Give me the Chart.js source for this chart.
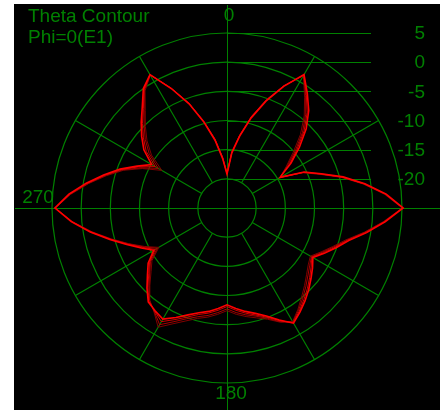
<!DOCTYPE html>
<html>
<head>
<meta charset="utf-8">
<script src="https://cdn.jsdelivr.net/npm/chart.js@4.4.1/dist/chart.umd.min.js"></script>
<style>
  html, body { margin: 0; padding: 0; background: #fff; }
  #wrap { width: 446px; height: 410px; }
</style>
</head>
<body>
<div id="wrap"><canvas id="contour" width="446" height="410"></canvas></div>
<script>
// ---- Data (theta in degrees, gain in dB) ----
const THETA = [
  0, 5, 10, 15, 20, 25, 30, 35, 40, 45, 50, 55,
  60, 65, 70, 75, 80, 85, 90, 95, 100, 105, 110, 115,
  120, 125, 130, 135, 140, 145, 150, 155, 160, 165, 170, 175,
  180, 185, 190, 195, 200, 205, 210, 215, 220, 225, 230, 235,
  240, 245, 250, 255, 260, 265, 270, 275, 280, 285, 290, 295,
  300, 305, 310, 315, 320, 325, 330, 335, 340, 345, 350, 355
];

const GAIN_1 = [
  -19.2, -15.5, -12.5, -9.0, -5.5, -2.0, 1.4, -1.0, -3.2, -5.8, -8.8, -11.6,
  -14.5, -10.4, -7.8, -4.4, -1.0, 2.4, 5.2, 2.2, -0.7, -3.4, -5.1, -6.6,
  -8.0, -7.1, -6.2, -5.2, -4.2, -3.2, -2.2, -3.8, -5.3, -6.3, -7.0, -7.7,
  -8.4, -7.7, -7.0, -6.4, -5.5, -4.3, -3.0, -3.5, -4.0, -5.6, -7.2, -8.5,
  -10.5, -8.8, -6.7, -4.2, -1.2, 1.8, 4.5, 2.2, -0.5, -3.1, -5.5, -8.0,
  -10.1, -7.6, -5.9, -4.2, -2.4, 0.0, 1.4, -2.4, -6.0, -9.8, -13.2, -16.5
];

const GAIN_2 = [
  -19.1, -15.4, -12.4, -8.9, -5.4, -1.9, 1.3, -1.3, -3.6, -6.3, -9.3, -11.9,
  -14.5, -10.5, -7.9, -4.5, -1.1, 2.3, 5.1, 2.1, -0.8, -3.6, -5.3, -6.8,
  -8.2, -7.4, -6.5, -5.5, -4.5, -3.4, -2.3, -3.7, -5.1, -6.0, -6.7, -7.4,
  -8.1, -7.4, -6.7, -6.1, -5.1, -3.9, -2.5, -3.4, -4.1, -5.8, -7.5, -8.8,
  -10.8, -9.0, -6.8, -4.3, -1.3, 1.7, 4.5, 2.1, -0.6, -3.3, -5.7, -8.3,
  -10.8, -8.1, -6.3, -4.5, -2.7, -0.2, 1.4, -2.4, -5.9, -9.7, -13.1, -16.4
];

const GAIN_3 = [
  -19.1, -15.3, -12.3, -8.8, -5.3, -1.9, 1.3, -1.5, -4.0, -6.7, -9.7, -12.3,
  -14.5, -10.6, -8.0, -4.6, -1.2, 2.2, 5.1, 2.0, -1.0, -3.7, -5.5, -7.0,
  -8.3, -7.7, -6.9, -5.9, -4.8, -3.6, -2.4, -3.5, -4.9, -5.8, -6.4, -7.0,
  -7.7, -7.0, -6.3, -5.7, -4.8, -3.5, -1.9, -3.3, -4.3, -6.1, -7.7, -9.0,
  -11.2, -9.2, -7.0, -4.4, -1.4, 1.7, 4.4, 2.0, -0.8, -3.4, -5.9, -8.7,
  -11.4, -8.7, -6.7, -4.9, -2.9, -0.3, 1.3, -2.3, -5.9, -9.6, -13.0, -16.3
];

const GAIN_4 = [
  -19.0, -15.2, -12.2, -8.7, -5.2, -1.8, 1.2, -1.8, -4.4, -7.2, -10.2, -12.6,
  -14.5, -10.7, -8.1, -4.7, -1.3, 2.1, 5.0, 1.9, -1.1, -3.9, -5.7, -7.2,
  -8.5, -8.0, -7.2, -6.2, -5.1, -3.8, -2.5, -3.4, -4.7, -5.5, -6.1, -6.7,
  -7.4, -6.7, -6.0, -5.4, -4.4, -3.1, -1.4, -3.2, -4.4, -6.3, -8.0, -9.3,
  -11.5, -9.4, -7.1, -4.5, -1.5, 1.6, 4.4, 1.9, -0.9, -3.6, -6.1, -9.0,
  -12.1, -9.2, -7.1, -5.2, -3.2, -0.5, 1.3, -2.3, -5.8, -9.5, -12.9, -16.2
];

const RING_TICKS = [5, 0, -5, -10, -15, -20];
const SPOKE_ANGLES = [30, 60, 120, 150, 210, 240, 300, 330];
const AXIS_LABELS = ['0', '180', '270'];
const TITLE_LINES = ['Theta Contour', 'Phi=0(E1)'];

// ---- Style ----
const GREEN = '#008000';
const FONT = "19px 'Liberation Sans', Arial, sans-serif";

const backdrop = {
  id: 'backdrop',
  beforeDraw(chart) {
    const { ctx, width, height } = chart;
    ctx.save();
    ctx.fillStyle = '#ffffff';
    ctx.fillRect(0, 0, width, height);
    ctx.fillStyle = '#000000';
    ctx.fillRect(14, 4, 426, 406);
    ctx.restore();
  }
};

const overlay = {
  id: 'overlay',
  beforeDatasetsDraw(chart) {
    const { ctx } = chart;
    const s = chart.scales.r;
    const cx = s.xCenter, cy = s.yCenter;
    const px = v => Math.round(v) + 0.5;

    ctx.save();
    ctx.strokeStyle = GREEN;
    ctx.lineWidth = 1;

    // main axes
    ctx.beginPath();
    ctx.moveTo(15, px(cy)); ctx.lineTo(440, px(cy));
    ctx.moveTo(px(cx), 5); ctx.lineTo(px(cx), 410);
    ctx.stroke();

    // spokes from inner ring to outer ring
    const rIn = s.getDistanceFromCenterForValue(-20);
    const rOut = s.getDistanceFromCenterForValue(5);
    ctx.lineWidth = 1.2;
    ctx.beginPath();
    SPOKE_ANGLES.forEach(a => {
      const idx = THETA.indexOf(a);
      const p1 = s.getPointPosition(idx, rIn);
      const p2 = s.getPointPosition(idx, rOut);
      ctx.moveTo(p1.x, p1.y);
      ctx.lineTo(p2.x, p2.y);
    });
    ctx.stroke();

    // level lines + labels on the right
    ctx.lineWidth = 1;
    ctx.fillStyle = GREEN;
    ctx.font = FONT;
    ctx.textAlign = 'right';
    ctx.textBaseline = 'middle';
    RING_TICKS.forEach(v => {
      const y = cy - s.getDistanceFromCenterForValue(v);
      ctx.beginPath();
      ctx.moveTo(px(cx), px(y));
      ctx.lineTo(371, px(y));
      ctx.stroke();
      ctx.fillText(String(v), 425, y + 1);
    });

    // angle labels
    ctx.textAlign = 'center';
    ctx.fillText(AXIS_LABELS[0], 229, 16);
    ctx.fillText(AXIS_LABELS[1], 231, 394);
    ctx.fillText(AXIS_LABELS[2], 38, 198);

    // title
    ctx.textAlign = 'left';
    ctx.textBaseline = 'alphabetic';
    ctx.fillText(TITLE_LINES[0], 28, 22);
    ctx.fillText(TITLE_LINES[1], 28, 43);
    ctx.restore();
  }
};

const line = (data, color, w) => ({
  data,
  borderColor: color,
  borderWidth: w,
  backgroundColor: 'transparent',
  fill: false,
  pointRadius: 0,
  tension: 0
});

new Chart(document.getElementById('contour'), {
  type: 'radar',
  data: {
    labels: THETA.map(String),
    datasets: [
      line(GAIN_1, '#ff0000', 1.6),
      line(GAIN_2, '#d00000', 1),
      line(GAIN_3, '#a80000', 1),
      line(GAIN_4, '#800000', 1)
    ]
  },
  options: {
    responsive: false,
    animation: false,
    layout: { padding: { left: 52, right: 44, top: 33, bottom: 27 } },
    plugins: { legend: { display: false }, tooltip: { enabled: false } },
    scales: {
      r: {
        min: -25,
        max: 5,
        startAngle: 0,
        ticks: { stepSize: 5, display: false },
        grid: { circular: true, color: GREEN, lineWidth: 1.2 },
        angleLines: { display: false },
        pointLabels: { display: false }
      }
    }
  },
  plugins: [backdrop, overlay]
});
</script>
</body>
</html>
